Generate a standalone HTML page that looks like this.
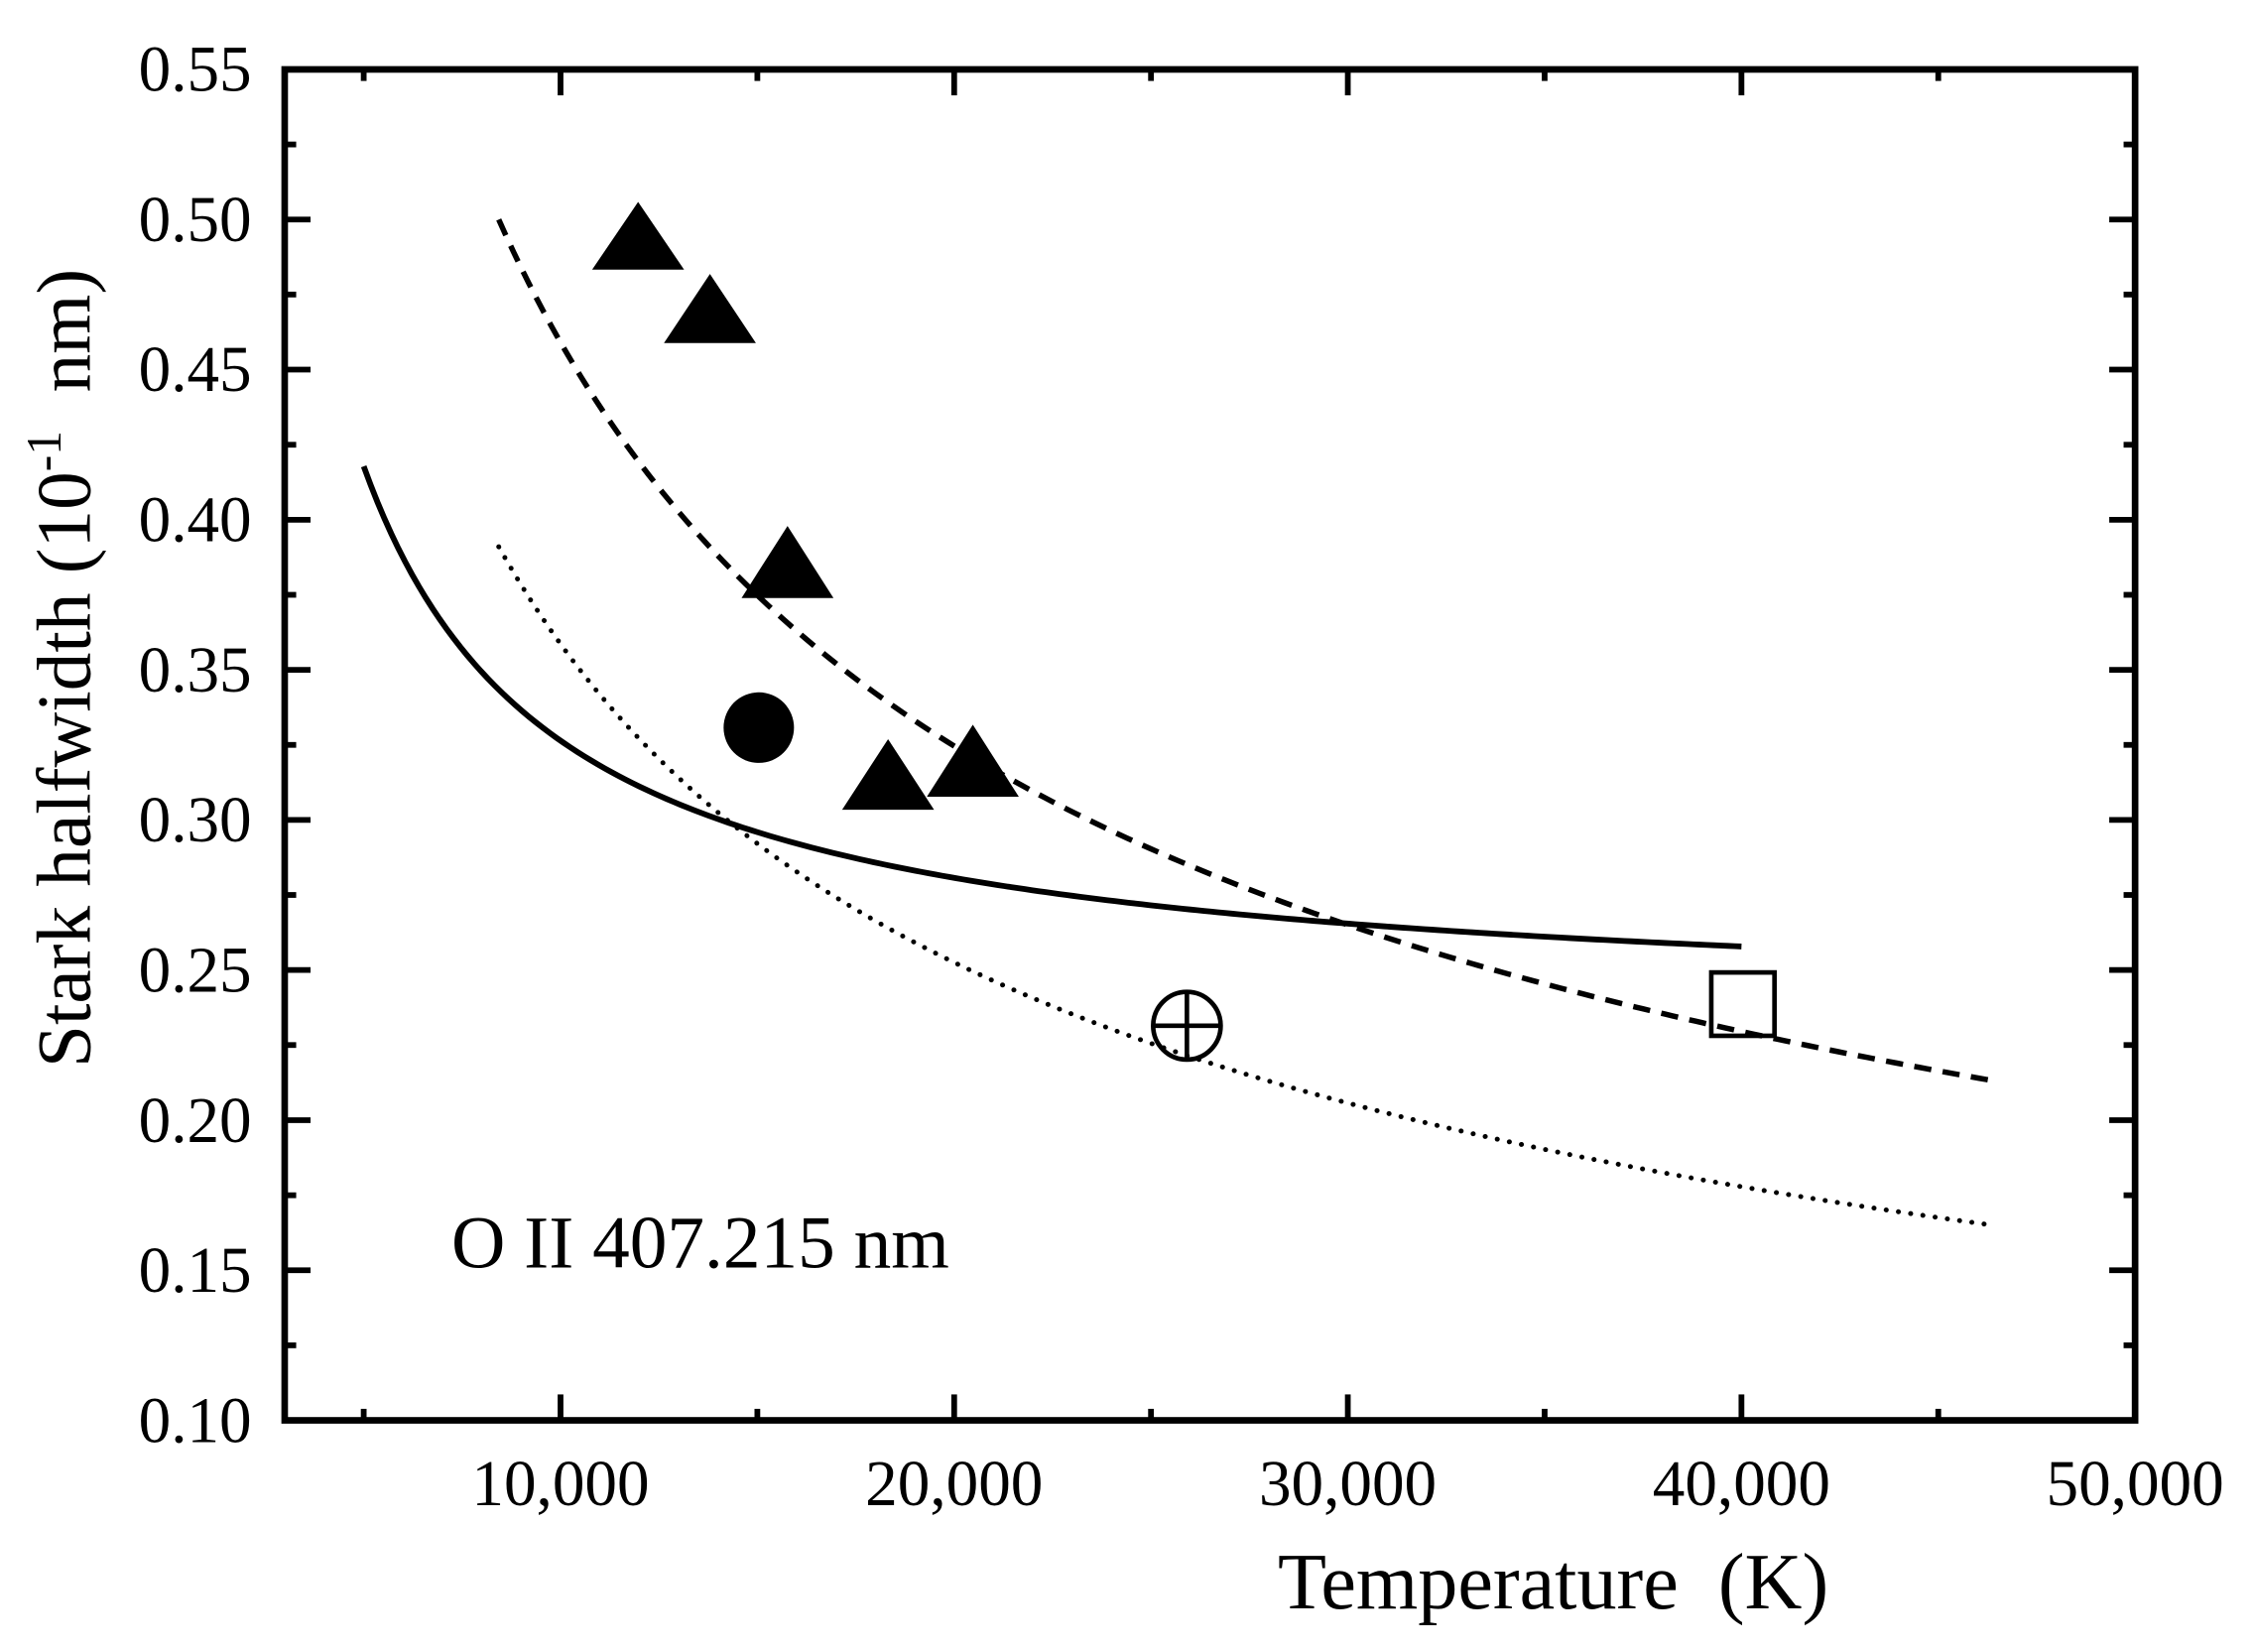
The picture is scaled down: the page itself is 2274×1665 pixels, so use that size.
<!DOCTYPE html>
<html><head><meta charset="utf-8"><style>
html,body{margin:0;padding:0;background:#fff;}
svg{display:block;}
text{font-family:"Liberation Serif",serif;fill:#000;}
</style></head><body>
<svg width="2274" height="1665" viewBox="0 0 1560 1142.2" preserveAspectRatio="none" xmlns="http://www.w3.org/2000/svg">
<rect width="1560" height="1142.2" fill="#fff"/>
<g transform="matrix(0.99343 0 0 0.99578 1.155 0.2026)">
<g stroke="#000" stroke-width="4">
<line x1="252" y1="986" x2="252" y2="978"/><line x1="252" y1="48" x2="252" y2="56"/>
<line x1="389" y1="986" x2="389" y2="968"/><line x1="389" y1="48" x2="389" y2="66"/>
<line x1="526" y1="986" x2="526" y2="978"/><line x1="526" y1="48" x2="526" y2="56"/>
<line x1="663" y1="986" x2="663" y2="968"/><line x1="663" y1="48" x2="663" y2="66"/>
<line x1="800" y1="986" x2="800" y2="978"/><line x1="800" y1="48" x2="800" y2="56"/>
<line x1="937" y1="986" x2="937" y2="968"/><line x1="937" y1="48" x2="937" y2="66"/>
<line x1="1074" y1="986" x2="1074" y2="978"/><line x1="1074" y1="48" x2="1074" y2="56"/>
<line x1="1211" y1="986" x2="1211" y2="968"/><line x1="1211" y1="48" x2="1211" y2="66"/>
<line x1="1348" y1="986" x2="1348" y2="978"/><line x1="1348" y1="48" x2="1348" y2="56"/>

<line x1="197" y1="933.9" x2="205" y2="933.9"/><line x1="1485" y1="933.9" x2="1477" y2="933.9"/>
<line x1="197" y1="881.8" x2="215" y2="881.8"/><line x1="1485" y1="881.8" x2="1467" y2="881.8"/>
<line x1="197" y1="829.7" x2="205" y2="829.7"/><line x1="1485" y1="829.7" x2="1477" y2="829.7"/>
<line x1="197" y1="777.6" x2="215" y2="777.6"/><line x1="1485" y1="777.6" x2="1467" y2="777.6"/>
<line x1="197" y1="725.4" x2="205" y2="725.4"/><line x1="1485" y1="725.4" x2="1477" y2="725.4"/>
<line x1="197" y1="673.3" x2="215" y2="673.3"/><line x1="1485" y1="673.3" x2="1467" y2="673.3"/>
<line x1="197" y1="621.2" x2="205" y2="621.2"/><line x1="1485" y1="621.2" x2="1477" y2="621.2"/>
<line x1="197" y1="569.1" x2="215" y2="569.1"/><line x1="1485" y1="569.1" x2="1467" y2="569.1"/>
<line x1="197" y1="517.0" x2="205" y2="517.0"/><line x1="1485" y1="517.0" x2="1477" y2="517.0"/>
<line x1="197" y1="464.9" x2="215" y2="464.9"/><line x1="1485" y1="464.9" x2="1467" y2="464.9"/>
<line x1="197" y1="412.8" x2="205" y2="412.8"/><line x1="1485" y1="412.8" x2="1477" y2="412.8"/>
<line x1="197" y1="360.7" x2="215" y2="360.7"/><line x1="1485" y1="360.7" x2="1467" y2="360.7"/>
<line x1="197" y1="308.6" x2="205" y2="308.6"/><line x1="1485" y1="308.6" x2="1477" y2="308.6"/>
<line x1="197" y1="256.4" x2="215" y2="256.4"/><line x1="1485" y1="256.4" x2="1467" y2="256.4"/>
<line x1="197" y1="204.3" x2="205" y2="204.3"/><line x1="1485" y1="204.3" x2="1477" y2="204.3"/>
<line x1="197" y1="152.2" x2="215" y2="152.2"/><line x1="1485" y1="152.2" x2="1467" y2="152.2"/>
<line x1="197" y1="100.1" x2="205" y2="100.1"/><line x1="1485" y1="100.1" x2="1477" y2="100.1"/>
</g>
<rect x="197" y="48" width="1288" height="938" fill="none" stroke="#000" stroke-width="4.6"/>
<g font-size="45" text-anchor="end">
<text x="174" y="1001">0.10</text>
<text x="174" y="896.8">0.15</text>
<text x="174" y="792.6">0.20</text>
<text x="174" y="688.3">0.25</text>
<text x="174" y="584.1">0.30</text>
<text x="174" y="479.9">0.35</text>
<text x="174" y="375.7">0.40</text>
<text x="174" y="271.4">0.45</text>
<text x="174" y="167.2">0.50</text>
<text x="174" y="63">0.55</text>
</g>
<g font-size="45" text-anchor="middle">
<text x="389" y="1045">10,000</text>
<text x="663" y="1045">20,000</text>
<text x="937" y="1045">30,000</text>
<text x="1211" y="1045">40,000</text>
<text x="1485" y="1045">50,000</text>
</g>
<path id="solid" fill="none" stroke="#000" stroke-width="4"/>
<path id="dash" fill="none" stroke="#000" stroke-width="3.8" stroke-dasharray="12,8"/>
<path id="dot" fill="none" stroke="#000" stroke-width="3.4" stroke-linecap="round" stroke-dasharray="0.1,8.5"/>
<g fill="#000">
<polygon points="443,140 411,187 475,187"/>
<polygon points="493,190 461,238 525,238"/>
<polygon points="547,365 515,415 579,415"/>
<polygon points="617,513 585,562 649,562"/>
<polygon points="676,503 644,553 708,553"/>
<circle cx="527" cy="505" r="24.5"/>
</g>
<g fill="none" stroke="#000" stroke-width="3.2">
<circle cx="825" cy="712" r="23.5"/>
<line x1="801.5" y1="712" x2="848.5" y2="712"/>
<line x1="825" y1="688.5" x2="825" y2="735.5"/>
<rect x="1190" y="675" width="44" height="44"/>
</g>
<text x="313" y="880" font-size="52">O II 407.215 nm</text>
</g>
<text x="1074" y="1112" font-size="55" text-anchor="middle" xml:space="preserve">Temperature  (K)</text>
<text transform="translate(62,462) rotate(-90)" font-size="53" text-anchor="middle" xml:space="preserve">Stark halfwidth (10<tspan dy="-20" font-size="34">-1</tspan><tspan dy="20">  nm)</tspan></text>
<script>
function X(T){return 115+T*0.0274;}
function Y(w){return 48+(0.55-w)/0.05*104.22;}
function path(f,a,b){var d='';for(var T=a;T<=b+1;T+=(b-a)/200){d+=(d?'L':'M')+X(T).toFixed(2)+','+Y(f(T)).toFixed(2);}return d;}
document.getElementById('solid').setAttribute('d',path(function(T){return 0.235+914/T;},5000,40000));
document.getElementById('dash').setAttribute('d',path(function(T){return 0.5*Math.sqrt(8430/T);},8430,46420));
document.getElementById('dot').setAttribute('d',path(function(T){return 0.391*Math.pow(8430/T,0.506);},8430,46420));
</script>
</svg>
</body></html>
